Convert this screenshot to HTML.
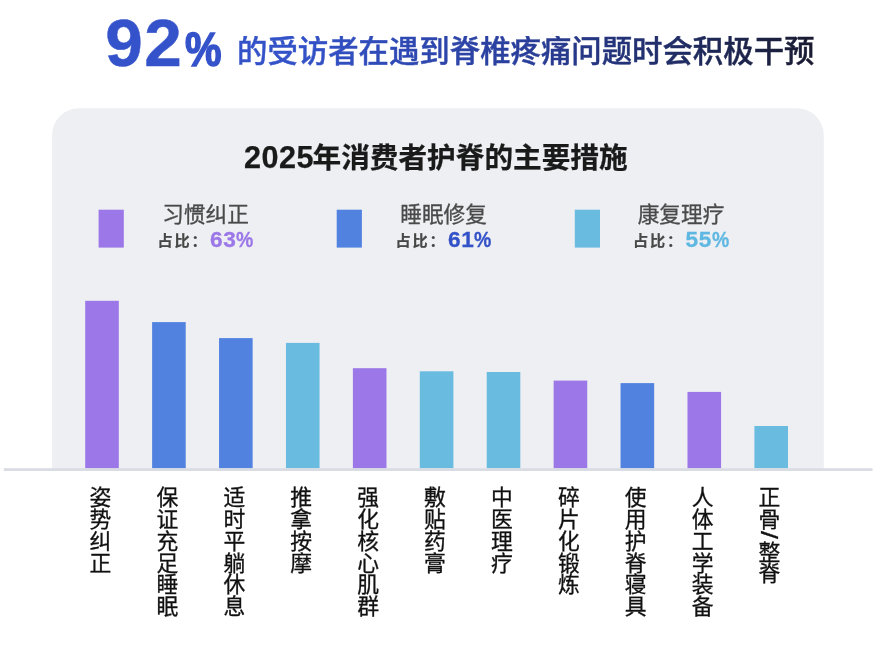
<!DOCTYPE html>
<html lang="zh-CN">
<head>
<meta charset="utf-8">
<title>2025年消费者护脊的主要措施</title>
<style>
  html, body { margin: 0; padding: 0; }
  body {
    width: 883px; height: 650px; position: relative; overflow: hidden;
    background: #ffffff;
    font-family: "Liberation Sans", "Noto Sans CJK SC", sans-serif;
    -webkit-font-smoothing: antialiased;
  }
  .abs { position: absolute; white-space: nowrap; line-height: 1; }

  /* headline */
  .g {
    background-image: linear-gradient(90deg, #3554cc 0px, #3352c8 300px, #2a3f9c 520px, #1f2a5c 700px, #1a1b30 815px, #1a1b30 883px);
    background-size: 883px 100%; background-repeat: no-repeat;
    -webkit-background-clip: text; background-clip: text;
    color: transparent; -webkit-text-fill-color: transparent;
  }
  .num { left: 105.2px; top: 9.2px; font-size: 67.5px; font-weight: 700; letter-spacing: 1.6px; -webkit-text-stroke: 0.5px transparent; background-position: -105px 0; }
  .pct { left: 185.2px; top: 25.6px; font-size: 48px; font-weight: 700; transform: scaleX(0.855); transform-origin: 0 0; -webkit-text-stroke: 1.6px transparent; background-image: none; background-color: #3453ca; }
  .lead { left: 237px; top: 35.6px; font-size: 30.4px; font-weight: 500; -webkit-text-stroke: 0.45px transparent; background-position: -237px 0; }

  /* card */
  .gfx { left: 0; top: 0; display: block; }
  .title { left: 244px; top: 142px; font-size: 28.65px; font-weight: 700; color: #1a1a1a; -webkit-text-stroke: 0.25px #1a1a1a; }
  .title .d { font-size: 30.6px; letter-spacing: 0.5px; position: relative; top: 0.4px; margin-right: -1.5px; }

  .lg1 { font-size: 21.65px; color: #4a4a4a; top: 204px; transform: translateX(-50%); -webkit-text-stroke: 0.3px #4a4a4a; }
  .lk { font-size: 15.2px; font-weight: 700; color: #474747; top: 233.2px; letter-spacing: 1.8px; -webkit-text-stroke: 0.2px #474747; }
  .lv { font-size: 22.6px; font-weight: 700; top: 228.8px; margin-left: 1px; letter-spacing: 0.6px; -webkit-text-stroke: 0.3px currentColor; }
  .lv i { font-style: normal; display: inline-block; transform: scaleX(0.86); transform-origin: 0 50%; letter-spacing: 0; }


  .sl { display: inline-block; font-size: 24.4px; line-height: 0; position: relative; left: 2px; margin-top: 1.4px; margin-bottom: 2.6px; -webkit-text-stroke: 0.25px #111; transform: translateY(0.7px) scale(0.96, 1.17); }
  .xl { top: 485.6px; writing-mode: vertical-rl; font-size: 21.8px; line-height: 1; color: #111; transform: translateX(-50%); width: 22px; -webkit-text-stroke: 0.3px #111; margin-left: -0.3px; }
</style>
</head>
<body>

<div class="abs g num">92</div>
<div class="abs g pct">%</div>
<div class="abs g lead">的受访者在遇到脊椎疼痛问题时会积极干预</div>

<svg class="abs gfx" width="883" height="650" viewBox="0 0 883 650" aria-hidden="true">
  <path d="M52.1 469 V135.2 A27 27 0 0 1 79.1 108.2 H796.8 A27 27 0 0 1 823.8 135.2 V469 Z" fill="#eeeff3"/>
  <rect x="98.6" y="209.7" width="25.2" height="37.9" fill="#9b77e8"/>
  <rect x="336.7" y="209.7" width="25.2" height="37.9" fill="#5282e0"/>
  <rect x="574.8" y="209.7" width="25.2" height="37.9" fill="#6abbe0"/>
  <rect x="85.20" y="300.8" width="33.6" height="167.6" fill="#9b77e8"/>
  <rect x="152.12" y="322.1" width="33.6" height="146.3" fill="#5282e0"/>
  <rect x="219.04" y="338.1" width="33.6" height="130.3" fill="#5282e0"/>
  <rect x="285.96" y="342.9" width="33.6" height="125.5" fill="#6abbe0"/>
  <rect x="352.88" y="368.2" width="33.6" height="100.2" fill="#9b77e8"/>
  <rect x="419.80" y="371.3" width="33.6" height="97.1" fill="#6abbe0"/>
  <rect x="486.72" y="372.0" width="33.6" height="96.4" fill="#6abbe0"/>
  <rect x="553.64" y="380.6" width="33.6" height="87.8" fill="#9b77e8"/>
  <rect x="620.56" y="383.1" width="33.6" height="85.3" fill="#5282e0"/>
  <rect x="687.48" y="391.9" width="33.6" height="76.5" fill="#9b77e8"/>
  <rect x="754.40" y="426.0" width="33.6" height="42.4" fill="#6abbe0"/>
  <rect x="3.8" y="468.2" width="868.7" height="2.8" fill="#d9dce2"/>
</svg>

<div class="abs title"><span class="d">2025</span>年消费者护脊的主要措施</div>

<div class="abs lg1" style="left:205.5px">习惯纠正</div>
<div class="abs lk" style="left:157.5px">占比：</div>
<div class="abs lv" style="left:209.0px;color:#9b77e8">63<i>%</i></div>

<div class="abs lg1" style="left:443.6px">睡眠修复</div>
<div class="abs lk" style="left:395.6px">占比：</div>
<div class="abs lv" style="left:447.1px;color:#3452c8">61<i>%</i></div>

<div class="abs lg1" style="left:681px">康复理疗</div>
<div class="abs lk" style="left:633.0px">占比：</div>
<div class="abs lv" style="left:684.5px;color:#5fb8e2">55<i>%</i></div>



<div class="abs xl" style="left:98.3px">姿势纠正</div>
<div class="abs xl" style="left:165.2px">保证充足睡眠</div>
<div class="abs xl" style="left:232.1px">适时平躺休息</div>
<div class="abs xl" style="left:299.0px">推拿按摩</div>
<div class="abs xl" style="left:365.9px">强化核心肌群</div>
<div class="abs xl" style="left:432.8px">敷贴药膏</div>
<div class="abs xl" style="left:499.7px">中医理疗</div>
<div class="abs xl" style="left:566.6px">碎片化锻炼</div>
<div class="abs xl" style="left:633.5px">使用护脊寝具</div>
<div class="abs xl" style="left:700.4px">人体工学装备</div>
<div class="abs xl" style="left:767.3px">正骨<span class="sl">/</span>整脊</div>

</body>
</html>
